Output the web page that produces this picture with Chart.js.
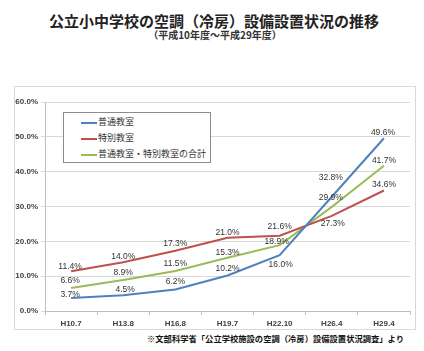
<!DOCTYPE html>
<html>
<head>
<meta charset="utf-8">
<script src="https://cdn.jsdelivr.net/npm/chart.js@4/dist/chart.umd.min.js"></script>
<style>
  html, body { margin: 0; padding: 0; background: #fff; }
  body { width: 424px; height: 351px; position: relative; overflow: hidden;
         font-family: "Noto Sans CJK JP", "Noto Sans", sans-serif; color: #222; }
  .title { position: absolute; left: 0; width: 428px; top: 11px; text-align: center;
           font-size: 15px; font-weight: bold; line-height: 20px; }
  .sub { position: absolute; left: 0; width: 430px; top: 28px; text-align: center;
         font-size: 10px; font-weight: bold; line-height: 13px; color: #333; }
  .frame { position: absolute; left: 14px; top: 86px; width: 402px; height: 244px;
           box-sizing: border-box; border: 1px solid #d9d9d9; }
  #c { position: absolute; left: 14px; top: 86px; }
  .legend { position: absolute; left: 63px; top: 112px; width: 148px; height: 51px;
            box-sizing: border-box; border: 1px solid #8c8c8c; background: #fff; }
  .legend div { position: absolute; left: 17px; height: 12px; font-size: 9px; line-height: 12px; color: #333; }
  .legend i { display: inline-block; width: 16px; height: 2px; vertical-align: middle; margin-right: 1px; }
  .note { position: absolute; left: 147px; top: 332px; font-size: 8.3px; font-weight: bold; line-height: 12px; color: #111; }
</style>
</head>
<body>
<div class="title">公立小中学校の空調（冷房）設備設置状況の推移</div>
<div class="sub">（平成10年度～平成29年度）</div>
<div class="frame"></div>
<canvas id="c" width="402" height="244"></canvas>
<div class="legend" id="legend"></div>
<div class="note">※文部科学省「公立学校施設の空調（冷房）設備設置状況調査」より</div>
<script>
const categories = ['H10.7', 'H13.8', 'H16.8', 'H19.7', 'H22.10', 'H26.4', 'H29.4'];
const seriesNames = ['普通教室', '特別教室', '普通教室・特別教室の合計'];
const regularRooms = [3.7, 4.5, 6.2, 10.2, 16.0, 32.8, 49.6];
const specialRooms = [11.4, 14.0, 17.3, 21.0, 21.6, 27.3, 34.6];
const totalRooms = [6.6, 8.9, 11.5, 15.3, 18.9, 29.9, 41.7];
const yTicks = [0, 10, 20, 30, 40, 50, 60];

const colors = ['#4f81bd', '#c0504d', '#9bbb59'];
// label offsets (px) relative to each point
const labelDy = [
  [-3, -6, -8, -7, 9, -19, -6],
  [-5, -6, -7, -5, -9, 8, -6],
  [-7, -7, -7, -5, -4, -9, -5]
];
const labelDx = [
  [-1, 2, 0, 0, 1, -1, -1],
  [-1, 0, 0, 0, 0, 1, 0],
  [-1, 0, 0, 0, -3, -1, 0]
];

const legendEl = document.getElementById('legend');
seriesNames.forEach((name, i) => {
  const row = document.createElement('div');
  row.style.top = (3 + i * 16) + 'px';
  row.innerHTML = '<i style="background:' + colors[i] + '"></i>' + name;
  legendEl.appendChild(row);
});

const pointLabels = {
  id: 'pointLabels',
  afterDatasetsDraw(chart) {
    const ctx = chart.ctx;
    ctx.save();
    ctx.font = '8.5px "Liberation Sans", sans-serif';
    ctx.fillStyle = '#333';
    ctx.textAlign = 'center';
    ctx.textBaseline = 'middle';
    chart.data.datasets.forEach((ds, di) => {
      chart.getDatasetMeta(di).data.forEach((pt, j) => {
        ctx.fillText(ds.data[j].toFixed(1) + '%', pt.x + labelDx[di][j], pt.y + labelDy[di][j]);
      });
    });
    ctx.restore();
  }
};

const tickFont = { family: '"Liberation Sans", sans-serif', size: 8, weight: 'bold' };

new Chart(document.getElementById('c'), {
  type: 'line',
  data: {
    labels: categories,
    datasets: [regularRooms, specialRooms, totalRooms].map((d, i) => ({
      label: seriesNames[i],
      data: d,
      borderColor: colors[i],
      backgroundColor: colors[i],
      borderWidth: 2,
      pointRadius: 0,
      tension: 0
    }))
  },
  options: {
    responsive: false,
    animation: false,
    events: [],
    layout: { padding: { top: 16, right: 6, left: 0, bottom: 0 } },
    plugins: { legend: { display: false }, title: { display: false }, tooltip: { enabled: false } },
    scales: {
      x: {
        offset: true,
        grid: { offset: true, drawOnChartArea: false, drawTicks: true, tickLength: 4, color: '#bfbfbf' },
        border: { color: '#bfbfbf' },
        ticks: { font: tickFont, color: '#404040', padding: 4, maxRotation: 0 },
        afterFit(s) { s.height = 19; }
      },
      y: {
        min: 0, max: 60,
        afterBuildTicks(s) { s.ticks = yTicks.map(v => ({ value: v })); },
        grid: { color: '#d9d9d9', tickLength: 4 },
        border: { color: '#bfbfbf' },
        ticks: { font: tickFont, color: '#404040', padding: 3, callback: v => v.toFixed(1) + '%' },
        afterFit(s) { s.width = 31; }
      }
    }
  },
  plugins: [pointLabels]
});
</script>
</body>
</html>
